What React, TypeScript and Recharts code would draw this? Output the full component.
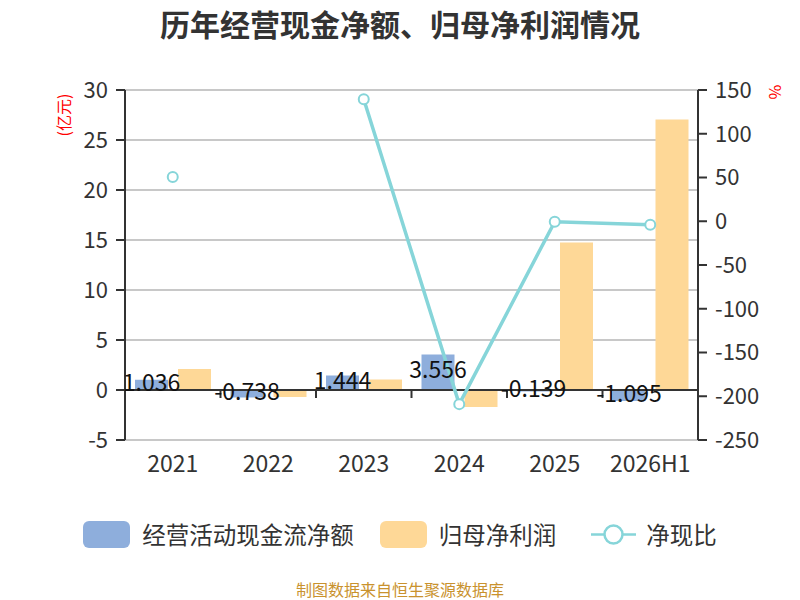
import {
    Bar,
    CartesianGrid,
    ComposedChart,
    LabelList,
    Line,
    ReferenceLine,
    XAxis,
    YAxis,
} from 'recharts';

const categories = ['2021', '2022', '2023', '2024', '2025', '2026H1'];
const cashFlow = [1.036, -0.738, 1.444, 3.556, -0.139, -1.095];
const netProfit = [2.1, -0.7, 1.05, -1.7, 14.75, 27.05];
const cashRatio: (number | null)[] = [50.5, null, 139.5, -209, -0.5, -4];

const leftTicks = [-5, 0, 5, 10, 15, 20, 25, 30];
const rightTicks = [-250, -200, -150, -100, -50, 0, 50, 100, 150];
// category boundaries, on a helper number axis running 0..categories.length
const boundaries = [1, 2, 3, 4, 5];

const BLUE = '#8eaedc';
const ORANGE = '#fed897';
const TEAL = '#86d5d9';
const AXIS = '#333';
const FONT = '"Noto Sans CJK SC", "Noto Sans", sans-serif';

const chartData = categories.map((name, i) => ({
    name,
    cash: cashFlow[i],
    profit: netProfit[i],
    ratio: cashRatio[i],
}));

const legendItems = [
    { name: '经营活动现金流净额', color: BLUE, kind: 'rect', gap: 26 },
    { name: '归母净利润', color: ORANGE, kind: 'rect', gap: 35 },
    { name: '净现比', color: TEAL, kind: 'line', gap: 0 },
];

function ChartLegend() {
    return (
        <div
            style={{
                position: 'absolute',
                top: 521,
                width: 800,
                display: 'flex',
                justifyContent: 'center',
                alignItems: 'center',
                fontSize: 23.5,
                lineHeight: '27px',
                color: '#333',
            }}
        >
            {legendItems.map((item) => (
                <div
                    key={item.name}
                    style={{ display: 'flex', alignItems: 'center', marginRight: item.gap }}
                >
                    {item.kind === 'rect' ? (
                        <div
                            style={{
                                width: 47,
                                height: 27,
                                borderRadius: 6,
                                background: item.color,
                                marginRight: 12,
                            }}
                        />
                    ) : (
                        <svg width={45} height={27} style={{ marginRight: 10 }}>
                            <line x1={0} y1={13.5} x2={45} y2={13.5} stroke={item.color} strokeWidth={2.5} />
                            <circle cx={22.5} cy={13.5} r={9} fill="#fff" stroke={item.color} strokeWidth={2.5} />
                        </svg>
                    )}
                    <span>{item.name}</span>
                </div>
            ))}
        </div>
    );
}

export default function App() {
    return (
        <div
            style={{
                position: 'absolute',
                left: 0,
                top: 0,
                width: 800,
                height: 600,
                background: '#fff',
                fontFamily: FONT,
            }}
        >
            <div
                style={{
                    position: 'absolute',
                    top: 2,
                    width: 800,
                    textAlign: 'center',
                    fontSize: 30,
                    lineHeight: '42px',
                    fontWeight: 'bold',
                    color: '#333',
                }}
            >
                历年经营现金净额、归母净利润情况
            </div>
            <div
                style={{
                    position: 'absolute',
                    left: 63,
                    top: 115,
                    transform: 'translate(-50%, -50%) rotate(-90deg)',
                    color: '#f00',
                    fontSize: 16,
                    whiteSpace: 'nowrap',
                }}
            >
                (亿元)
            </div>
            <div
                style={{
                    position: 'absolute',
                    left: 776,
                    top: 92,
                    transform: 'translate(-50%, -50%) rotate(90deg)',
                    color: '#f00',
                    fontSize: 16,
                }}
            >
                %
            </div>
            <ComposedChart
                width={800}
                height={600}
                data={chartData}
                margin={{ top: 90, right: 42, bottom: 120, left: 65 }}
                barSize={33}
                barGap={10}
                style={{ fontFamily: FONT }}
            >
                <CartesianGrid
                    yAxisId="left"
                    vertical={false}
                    stroke="#c8c8c8"
                    strokeWidth={2}
                />
                <XAxis
                    dataKey="name"
                    height={40}
                    axisLine={false}
                    tickLine={false}
                    tickMargin={10}
                    tick={{ fontSize: 23, fill: '#333' }}
                />
                <XAxis
                    xAxisId="edges"
                    type="number"
                    dataKey={() => 0}
                    domain={[0, categories.length]}
                    allowDataOverflow
                    hide
                />
                <YAxis
                    yAxisId="left"
                    width={60}
                    domain={[-5, 30]}
                    ticks={leftTicks}
                    interval={0}
                    stroke={AXIS}
                    strokeWidth={2}
                    tickSize={9}
                    tickMargin={8}
                    tick={{ fontSize: 22, fill: '#333' }}
                />
                <YAxis
                    yAxisId="right"
                    orientation="right"
                    width={60}
                    domain={[-250, 150]}
                    ticks={rightTicks}
                    interval={0}
                    stroke={AXIS}
                    strokeWidth={2}
                    tickSize={9}
                    tickMargin={8}
                    tick={{ fontSize: 22, fill: '#333' }}
                />
                <ReferenceLine yAxisId="left" y={0} stroke={AXIS} strokeWidth={2} />
                {boundaries.map((b) => (
                    <ReferenceLine
                        key={b}
                        xAxisId="edges"
                        yAxisId="left"
                        segment={[
                            { x: b, y: 0 },
                            { x: b, y: -0.8 },
                        ]}
                        stroke={AXIS}
                        strokeWidth={2}
                    />
                ))}
                <Bar
                    yAxisId="left"
                    dataKey="cash"
                    name="经营活动现金流净额"
                    fill={BLUE}
                    isAnimationActive={false}
                >
                    <LabelList
                        dataKey="cash"
                        position="center"
                        fill="#111"
                        fontSize={23}
                        dy={-2}
                    />
                </Bar>
                <Bar
                    yAxisId="left"
                    dataKey="profit"
                    name="归母净利润"
                    fill={ORANGE}
                    isAnimationActive={false}
                />
                <Line
                    yAxisId="right"
                    dataKey="ratio"
                    name="净现比"
                    stroke={TEAL}
                    strokeWidth={3.5}
                    connectNulls={false}
                    dot={{ r: 5, fill: '#fff', stroke: TEAL, strokeWidth: 2 }}
                    activeDot={false}
                    isAnimationActive={false}
                />
            </ComposedChart>
            <ChartLegend />
            <div
                style={{
                    position: 'absolute',
                    top: 580,
                    width: 800,
                    textAlign: 'center',
                    fontSize: 16,
                    lineHeight: '18px',
                    color: '#c9922e',
                }}
            >
                制图数据来自恒生聚源数据库
            </div>
        </div>
    );
}
